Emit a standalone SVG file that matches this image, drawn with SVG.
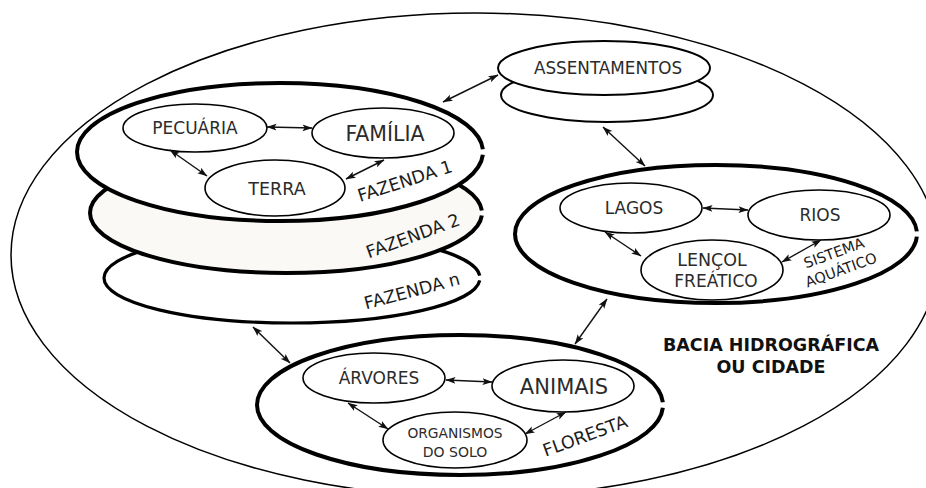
<svg xmlns="http://www.w3.org/2000/svg" width="926" height="488" viewBox="0 0 926 488">
  <defs>
    <marker id="tip" viewBox="0 0 10 8" refX="9.5" refY="4" markerWidth="10" markerHeight="8" markerUnits="userSpaceOnUse" orient="auto-start-reverse">
      <path d="M0,0.6 L10,4 L0,7.4 L2.2,4 Z" fill="#111"/>
    </marker>
    <style>
      .region { fill: none; stroke: #000; stroke-width: 1.5; }
      .big { fill: #fff; stroke: #000; stroke-width: 4; stroke-dasharray: 994 6; stroke-dashoffset: -3; }
      .mid { fill: #fff; stroke: #000; stroke-width: 2; }
      .small { fill: #fff; stroke: #000; stroke-width: 1.6; }
      .lbl { font-family: "DejaVu Sans", "Liberation Sans", sans-serif; fill: #2b2b2b; text-anchor: middle; }
      .tag { font-family: "DejaVu Sans", "Liberation Sans", sans-serif; fill: #1c1c1c; text-anchor: middle; }
      .title { font-family: "DejaVu Sans", "Liberation Sans", sans-serif; font-weight: bold; fill: #111; text-anchor: middle; font-size: 17.5px; }
      .link { fill: none; stroke: #111; stroke-width: 1.4; marker-start: url(#tip); marker-end: url(#tip); }
    </style>
  </defs>

  <rect width="926" height="488" fill="#fff"/>

  <!-- watershed / city boundary -->
  <g id="bacia">
    <ellipse class="region" cx="475" cy="255" rx="464" ry="242"/>
    <text class="title" x="771" y="351">BACIA HIDROGRÁFICA</text>
    <text class="title" x="771" y="373">OU CIDADE</text>
  </g>

  <!-- stack of farms, back to front -->
  <g id="fazenda-n">
    <ellipse class="big" style="stroke-width:3.2" cx="292" cy="278" rx="188" ry="45" pathLength="1000"/>
    <text class="tag" font-size="17.5" transform="translate(412,291) rotate(-15)" y="6">FAZENDA n</text>
  </g>
  <g id="fazenda-2">
    <ellipse class="big" style="fill:#faf9f6" cx="286" cy="213" rx="196" ry="60" pathLength="1000"/>
    <text class="tag" font-size="17.5" transform="translate(413,236) rotate(-20)" y="6">FAZENDA 2</text>
  </g>
  <g id="fazenda-1">
    <ellipse class="big" cx="280" cy="152" rx="203" ry="69" pathLength="1000"/>
    <text class="tag" font-size="17.5" transform="translate(405,181) rotate(-18)" y="6">FAZENDA 1</text>
  </g>
  <g id="pecuaria">
    <ellipse class="small" cx="195" cy="128" rx="72" ry="24"/>
    <text class="lbl" x="195" y="134" font-size="17">PECUÁRIA</text>
  </g>
  <g id="familia">
    <ellipse class="small" cx="383" cy="133" rx="71" ry="25"/>
    <text class="lbl" x="385" y="140.5" font-size="20.5">FAMÍLIA</text>
  </g>
  <g id="terra">
    <ellipse class="small" cx="275" cy="188" rx="70" ry="28"/>
    <text class="lbl" x="277" y="194.5" font-size="17.5">TERRA</text>
  </g>

  <!-- settlements (two stacked discs) -->
  <g id="assentamentos">
    <ellipse class="mid" cx="607" cy="95" rx="106" ry="27"/>
    <ellipse class="mid" cx="604" cy="68" rx="106" ry="27"/>
    <text class="lbl" x="608" y="73.5" font-size="16.8">ASSENTAMENTOS</text>
  </g>

  <!-- aquatic system -->
  <g id="sistema-aquatico">
    <ellipse class="big" cx="716" cy="234" rx="201" ry="69" pathLength="1000"/>
    <text class="tag" font-size="14.5" transform="translate(834,253) rotate(-20)" y="5">SISTEMA</text>
    <text class="tag" font-size="14.5" transform="translate(841,270) rotate(-20)" y="5">AQUÁTICO</text>
  </g>
  <g id="lagos">
    <ellipse class="small" cx="631" cy="208" rx="71" ry="25"/>
    <text class="lbl" x="634" y="214" font-size="17">LAGOS</text>
  </g>
  <g id="rios">
    <ellipse class="small" cx="819" cy="215" rx="71" ry="25"/>
    <text class="lbl" x="820" y="221" font-size="17">RIOS</text>
  </g>
  <g id="lencol-freatico">
    <ellipse class="small" cx="712" cy="270" rx="71" ry="30"/>
    <text class="lbl" x="712" y="266" font-size="17.5">LENÇOL</text>
    <text class="lbl" x="716" y="286.5" font-size="17">FREÁTICO</text>
  </g>

  <!-- forest -->
  <g id="floresta">
    <ellipse class="big" cx="460" cy="405" rx="203" ry="70" pathLength="1000"/>
    <text class="tag" font-size="17.5" transform="translate(585,436) rotate(-20)" y="6">FLORESTA</text>
  </g>
  <g id="arvores">
    <ellipse class="small" cx="374" cy="378" rx="71" ry="25"/>
    <text class="lbl" x="379" y="384" font-size="17">ÁRVORES</text>
  </g>
  <g id="animais">
    <ellipse class="small" cx="563" cy="386" rx="71" ry="26"/>
    <text class="lbl" x="564" y="393.5" font-size="21">ANIMAIS</text>
  </g>
  <g id="organismos-do-solo">
    <ellipse class="small" cx="455" cy="440" rx="72" ry="28"/>
    <text class="lbl" x="455" y="438" font-size="13.8">ORGANISMOS</text>
    <text class="lbl" x="455" y="457" font-size="14">DO SOLO</text>
  </g>

  <!-- two-way relations -->
  <g id="connectors">
    <line class="link" x1="267" y1="127" x2="312" y2="128"/>
    <line class="link" x1="170" y1="150" x2="207" y2="176"/>
    <line class="link" x1="384" y1="160" x2="346" y2="179"/>
    <line class="link" x1="443" y1="102" x2="498" y2="75"/>
    <line class="link" x1="603" y1="127" x2="645" y2="166"/>
    <line class="link" x1="703" y1="208" x2="748" y2="210"/>
    <line class="link" x1="605" y1="232" x2="641" y2="256"/>
    <line class="link" x1="821" y1="240" x2="782" y2="262"/>
    <line class="link" x1="607" y1="299" x2="575" y2="344"/>
    <line class="link" x1="253" y1="327" x2="290" y2="363"/>
    <line class="link" x1="446" y1="380" x2="492" y2="382"/>
    <line class="link" x1="348" y1="403" x2="388" y2="429"/>
    <line class="link" x1="566" y1="412" x2="525" y2="434"/>
  </g>
</svg>
